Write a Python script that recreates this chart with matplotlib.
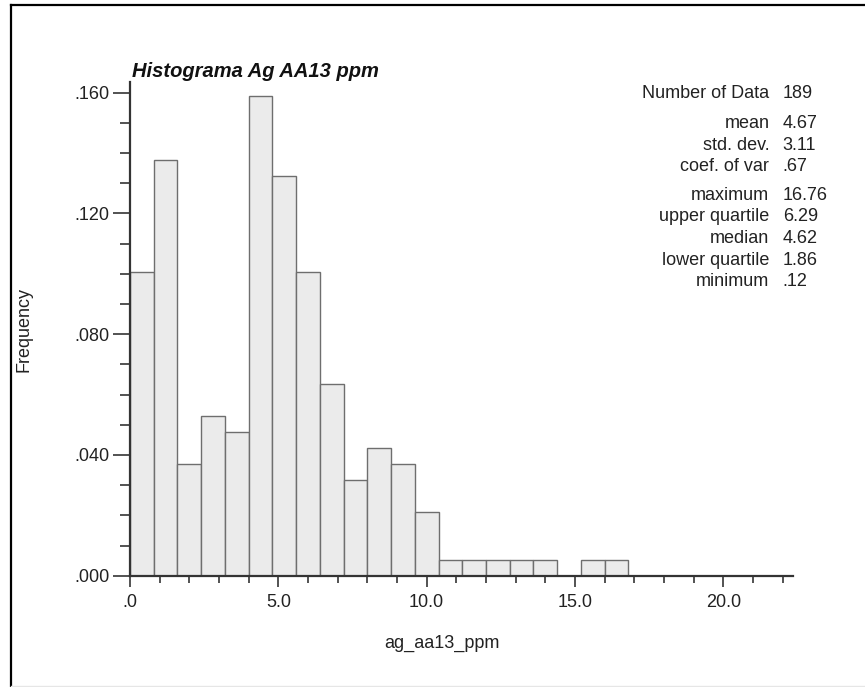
import matplotlib
matplotlib.use('Agg')
import matplotlib.pyplot as plt
import numpy as np
from matplotlib.lines import Line2D
from matplotlib.ticker import MultipleLocator

plt.rcParams['font.family'] = ['Liberation Sans', 'DejaVu Sans']

# ---- data ----
bin_edges = [0.0, 0.8, 1.6, 2.4, 3.2, 4.0, 4.8, 5.6, 6.4, 7.2, 8.0, 8.8,
             9.6, 10.4, 11.2, 12.0, 12.8, 13.6, 14.4, 15.2, 16.0, 16.8]
freq = [0.1005, 0.1376, 0.0370, 0.0529, 0.0476, 0.1587, 0.1323, 0.1005,
        0.0635, 0.0317, 0.0423, 0.0370, 0.0212, 0.0053, 0.0053, 0.0053,
        0.0053, 0.0053, 0.0, 0.0053, 0.0053]
xticks = [0, 5, 10, 15, 20]
xtick_labels = ['.0', '5.0', '10.0', '15.0', '20.0']
yticks = [0.0, 0.04, 0.08, 0.12, 0.16]
ytick_labels = ['.000', '.040', '.080', '.120', '.160']
stat_labels = ['Number of Data', 'mean', 'std. dev.', 'coef. of var',
               'maximum', 'upper quartile', 'median', 'lower quartile', 'minimum']
stat_values = ['189', '4.67', '3.11', '.67', '16.76', '6.29', '4.62', '1.86', '.12']
title = 'Histograma Ag AA13 ppm'
xlabel = 'ag_aa13_ppm'
ylabel = 'Frequency'

# ---- layout ----
W, H = 865, 687
fig = plt.figure(figsize=(W / 100, H / 100), dpi=100)
fx = lambda px: px / W
fy = lambda py: 1 - py / H

ax = fig.add_axes([fx(130), fy(575.7), (793 - 130) / W, (575.7 - 82.3) / H])
ax.set_facecolor('none')
edges = np.array(bin_edges)
ax.bar(edges[:-1], freq, width=np.diff(edges), align='edge',
       color='#ebebeb', edgecolor='#6e6e6e', linewidth=1.0, zorder=2)
ax.set_xlim(0, 22.35)
ax.set_ylim(0, 0.1634)

for s in ['top', 'right']:
    ax.spines[s].set_visible(False)
for s in ['left', 'bottom']:
    ax.spines[s].set_color('#333333')
    ax.spines[s].set_linewidth(1.6)
    ax.spines[s].set_zorder(3)

ax.set_xticks(xticks)
ax.set_xticklabels(xtick_labels)
ax.set_yticks(yticks)
ax.set_yticklabels(ytick_labels)
ax.xaxis.set_minor_locator(MultipleLocator(1))
ax.yaxis.set_minor_locator(MultipleLocator(0.01))
ax.tick_params(axis='y', which='major', length=12.5, width=1.3, colors='#444444',
               labelcolor='#222222', pad=2.5, labelsize=13)
ax.tick_params(axis='y', which='minor', length=7, width=1.3, colors='#444444')
ax.tick_params(axis='x', which='major', length=8, width=1.3, colors='#444444',
               labelcolor='#222222', pad=5, labelsize=13)
ax.tick_params(axis='x', which='minor', length=4.8, width=1.3, colors='#444444')

fig.text(fx(131.7), fy(77), title, fontsize=14.5, fontweight='bold',
         fontstyle='italic', color='#111111', va='baseline', ha='left')
fig.text(fx(442), fy(643), xlabel, fontsize=13, color='#222222',
         ha='center', va='center')
fig.text(fx(24), fy(329), ylabel, fontsize=13, color='#222222',
         ha='center', va='center', rotation=90)

row_y = [91.7, 121.7, 143.0, 164.5, 193.3, 214.8, 236.5, 258.2, 279.8]
for lab, val, yc in zip(stat_labels, stat_values, row_y):
    fig.text(fx(769.3), fy(yc + 6.7), lab, fontsize=13, color='#222222',
             ha='right', va='baseline')
    fig.text(fx(782.7), fy(yc + 6.7), val, fontsize=13, color='#222222',
             ha='left', va='baseline')

# outer frame
fig.add_artist(Line2D([fx(11), fx(11)], [fy(5), fy(686)], color='black',
                      linewidth=1.6, transform=fig.transFigure))
fig.add_artist(Line2D([fx(11), fx(865)], [fy(5), fy(5)], color='black',
                      linewidth=1.6, transform=fig.transFigure))
fig.add_artist(Line2D([fx(11), fx(865)], [fy(686), fy(686)], color='#e6e6e6',
                      linewidth=1.0, transform=fig.transFigure))

fig.savefig('out.png', dpi=100)
